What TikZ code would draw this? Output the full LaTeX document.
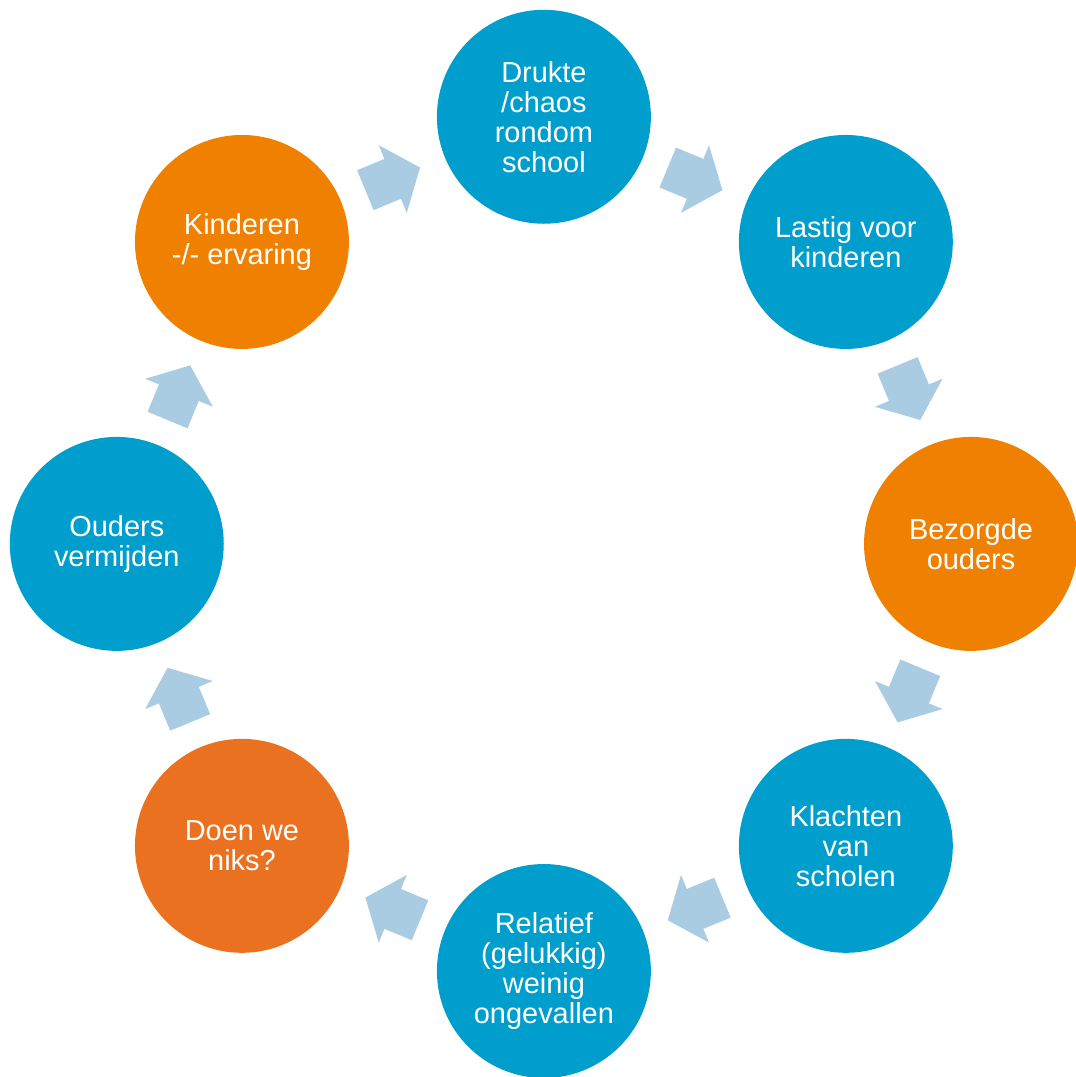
\documentclass[tikz,border=0pt]{standalone}
\usepackage{fontspec}
\setmainfont{Liberation Sans}

\definecolor{stepblue}{RGB}{0,158,204}
\definecolor{steporange}{RGB}{240,128,0}
\definecolor{steprust}{RGB}{234,113,32}
\definecolor{arrowblue}{RGB}{170,204,226}

\begin{document}
\begin{tikzpicture}[scale=1,
	stepnode/.style={circle, fill=#1, text=white, inner sep=0pt, minimum size=5.35cm, align=center, font=\fontsize{20.6}{21.3}\selectfont},
	flow/.style={fill=arrowblue, rotate=#1}]
				\useasboundingbox (-13.60, -13.33) rectangle (13.30, 13.60);

				\node[stepnode=stepblue] (node0) at (0.00, 10.68) {Drukte\\/chaos\\rondom\\school};
				\node[stepnode=stepblue] (node1) at (7.55, 7.55) {Lastig voor\\kinderen};
				\node[stepnode=steporange] (node2) at (10.68, 0.00) {Bezorgde\\ouders};
				\node[stepnode=stepblue] (node3) at (7.55, -7.55) {Klachten\\van\\scholen};
				\node[stepnode=stepblue] (node4) at (0.00, -10.68) {Relatief\\(gelukkig)\\weinig\\ongevallen};
				\node[stepnode=steprust] (node5) at (-7.55, -7.55) {Doen we\\niks?};
				\node[stepnode=stepblue] (node6) at (-10.68, 0.00) {Ouders\\vermijden};
				\node[stepnode=steporange] (node7) at (-7.55, 7.55) {Kinderen\\-/- ervaring};

				\fill[flow=67.5] (9.34, 0.74) -- (10.42, 0.74) -- (10.42, 0.00) -- (10.79, 0.00) -- (9.88, -0.74) -- (8.96, 0.00) -- (9.34, 0.00) -- cycle;
				\fill[flow=22.5] (9.34, 0.74) -- (10.42, 0.74) -- (10.42, 0.00) -- (10.79, 0.00) -- (9.88, -0.74) -- (8.96, 0.00) -- (9.34, 0.00) -- cycle;
				\fill[flow=-22.5] (9.34, 0.74) -- (10.42, 0.74) -- (10.42, 0.00) -- (10.79, 0.00) -- (9.88, -0.74) -- (8.96, 0.00) -- (9.34, 0.00) -- cycle;
				\fill[flow=-67.5] (9.34, 0.74) -- (10.42, 0.74) -- (10.42, 0.00) -- (10.79, 0.00) -- (9.88, -0.74) -- (8.96, 0.00) -- (9.34, 0.00) -- cycle;
				\fill[flow=-112.5] (9.34, 0.74) -- (10.42, 0.74) -- (10.42, 0.00) -- (10.79, 0.00) -- (9.88, -0.74) -- (8.96, 0.00) -- (9.34, 0.00) -- cycle;
				\fill[flow=-157.5] (9.34, 0.74) -- (10.42, 0.74) -- (10.42, 0.00) -- (10.79, 0.00) -- (9.88, -0.74) -- (8.96, 0.00) -- (9.34, 0.00) -- cycle;
				\fill[flow=157.5] (9.34, 0.74) -- (10.42, 0.74) -- (10.42, 0.00) -- (10.79, 0.00) -- (9.88, -0.74) -- (8.96, 0.00) -- (9.34, 0.00) -- cycle;
				\fill[flow=112.5] (9.34, 0.74) -- (10.42, 0.74) -- (10.42, 0.00) -- (10.79, 0.00) -- (9.88, -0.74) -- (8.96, 0.00) -- (9.34, 0.00) -- cycle;
			\end{tikzpicture}
\end{document}
